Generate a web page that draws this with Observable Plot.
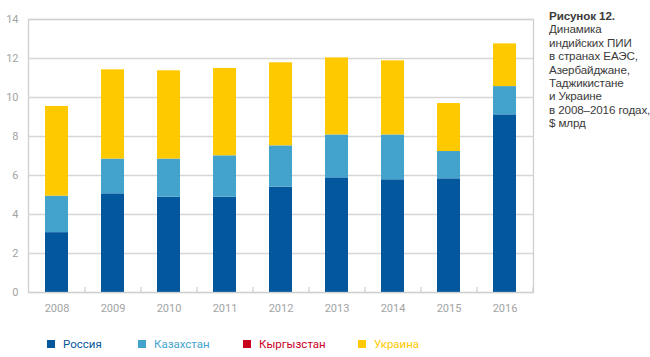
<!DOCTYPE html>
<html>
<head>
<meta charset="utf-8">
<script src="https://cdn.jsdelivr.net/npm/d3@7"></script>
<script src="https://cdn.jsdelivr.net/npm/@observablehq/plot@0.6"></script>
<style>
  html, body { margin: 0; padding: 0; background: #fff; }
  #wrap { position: relative; width: 650px; height: 357px; overflow: hidden; }
  #chart { position: absolute; left: 0; top: 0; }
  #title { position: absolute; left: 549px; top: 9px; font-family: "Liberation Sans", Arial, sans-serif;
           font-size: 11.6px; line-height: 13.4px; color: #3a3a3a; white-space: nowrap; letter-spacing: -0.1px; }
  #title b { font-weight: bold; }
  #legend { position: absolute; left: 0; top: 335px; width: 650px; height: 18px;
            font-family: Roboto, sans-serif; font-size: 11.5px; }
  .li { position: absolute; top: 0; display: flex; align-items: center; height: 18px; }
  .sw { width: 8px; height: 8px; margin-right: 8px; }
</style>
</head>
<body>
<div id="wrap">
  <div id="chart"></div>
  <div id="title"></div>
  <div id="legend"></div>
</div>
<script>
const years = ["2008", "2009", "2010", "2011", "2012", "2013", "2014", "2015", "2016"];
const series = ["Россия", "Казахстан", "Кыргызстан", "Украина"];
const colors = ["#03579c", "#44a3cc", "#c8001e", "#ffc900"];
const russia     = [3.07, 5.06, 4.89, 4.89, 5.40, 5.88, 5.78, 5.83, 9.11];
const kazakhstan = [1.87, 1.78, 1.95, 2.12, 2.12, 2.20, 2.30, 1.40, 1.45];
const kyrgyzstan = [0, 0, 0, 0, 0, 0, 0, 0, 0];
const ukraine    = [4.60, 4.58, 4.53, 4.48, 4.26, 3.95, 3.80, 2.46, 2.19];
const yTicks = [0, 2, 4, 6, 8, 10, 12, 14];
const titleLines = ["Рисунок 12.", "Динамика", "индийских ПИИ", "в странах ЕАЭС,", "Азербайджане,", "Таджикистане", "и Украине", "в 2008–2016 годах,", "$ млрд"];
const legendX = [47, 138, 243, 358];

const valueArrays = [russia, kazakhstan, kyrgyzstan, ukraine];
const data = [];
series.forEach((s, si) => years.forEach((y, yi) => data.push({year: y, series: s, value: valueArrays[si][yi]})));

const W = 650, ML = 28, MR = 117, MT = 19, MB = 30, H = 322;
const step = (W - ML - MR) / years.length;

const chart = Plot.plot({
  width: W, height: H,
  marginLeft: ML, marginRight: MR, marginTop: MT, marginBottom: MB,
  style: {fontFamily: "Roboto, sans-serif", fontSize: "11px", color: "#a3a3a3", background: "#fff"},
  x: {domain: years, paddingInner: 0.59, paddingOuter: 0.295, label: null},
  y: {domain: [0, 14], ticks: yTicks, label: null},
  color: {domain: series, range: colors},
  marks: [
    Plot.gridY(yTicks, {stroke: "#d6d6d6", strokeOpacity: 1, strokeWidth: 1.3}),
    Plot.barY(data, {x: "year", y: "value", fill: "series", order: series}),
    Plot.frame({stroke: "#d0d0d0", strokeWidth: 1.3}),
    Plot.axisY(yTicks, {tickSize: 0, tickPadding: 10, fill: "#a3a3a3", fontSize: 11}),
    Plot.axisX({tickSize: 0, tickPadding: 12, fill: "#a3a3a3", fontSize: 11}),
    Plot.axisX({tickSize: -5, text: null, dx: step / 2, stroke: "#d0d0d0", strokeWidth: 1.3})
  ]
});
document.getElementById("chart").appendChild(chart);

document.getElementById("title").innerHTML =
  titleLines.map((t, i) => i === 0 ? `<b>${t}</b>` : t).join("<br>");

const leg = document.getElementById("legend");
series.forEach((s, i) => {
  const d = document.createElement("div");
  d.className = "li";
  d.style.left = legendX[i] + "px";
  d.style.color = colors[i];
  d.innerHTML = `<span class="sw" style="background:${colors[i]}"></span><span>${s}</span>`;
  leg.appendChild(d);
});
</script>
</body>
</html>
